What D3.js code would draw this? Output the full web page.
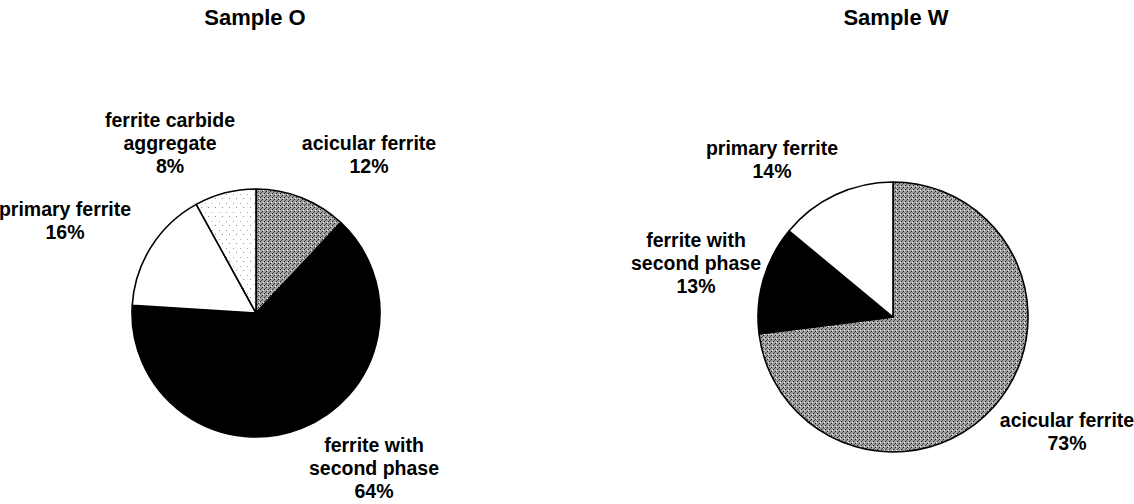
<!DOCTYPE html>
<html>
<head>
<meta charset="utf-8">
<script src="https://cdn.jsdelivr.net/npm/d3@7"></script>
<style>
  body { margin: 0; background: #fff; }
  svg text { font-family: "Liberation Sans", Arial, sans-serif; font-weight: bold; fill: #000; }
</style>
</head>
<body>
<div class="chart"></div>
<script>
// data
var titles = ['Sample O', 'Sample W'];
var categoriesO = ['acicular ferrite', 'ferrite with second phase', 'primary ferrite', 'ferrite carbide aggregate'];
var valuesO = [12, 64, 16, 8];
var categoriesW = ['acicular ferrite', 'ferrite with second phase', 'primary ferrite'];
var valuesW = [73, 13, 14];

// label lines per slice (text only)
var labelLinesO = [['acicular ferrite'], ['ferrite with', 'second phase'], ['primary ferrite'], ['ferrite carbide', 'aggregate']];
var labelLinesW = [['acicular ferrite'], ['ferrite with', 'second phase'], ['primary ferrite']];

var width = 1134, height = 504;

var svg = d3.select('.chart').append('svg')
    .attr('width', width)
    .attr('height', height);

var defs = svg.append('defs');

// grey stipple for acicular ferrite
var pg = defs.append('pattern').attr('id', 'grey').attr('patternUnits', 'userSpaceOnUse')
    .attr('width', 4).attr('height', 4);
pg.append('rect').attr('width', 4).attr('height', 4).attr('fill', '#a2a2a2');
pg.append('rect').attr('x', 0).attr('y', 0).attr('width', 1).attr('height', 1).attr('fill', '#222');
pg.append('rect').attr('x', 2).attr('y', 2).attr('width', 1).attr('height', 1).attr('fill', '#222');
pg.append('rect').attr('x', 1).attr('y', 3).attr('width', 1).attr('height', 1).attr('fill', '#555');
pg.append('rect').attr('x', 3).attr('y', 1).attr('width', 1).attr('height', 1).attr('fill', '#eee');

// sparse dots for carbide aggregate
var ps = defs.append('pattern').attr('id', 'sparse').attr('patternUnits', 'userSpaceOnUse')
    .attr('width', 7).attr('height', 9);
ps.append('rect').attr('width', 7).attr('height', 9).attr('fill', '#fff');
ps.append('rect').attr('x', 1).attr('y', 2).attr('width', 1).attr('height', 1).attr('fill', '#888');
ps.append('rect').attr('x', 5).attr('y', 7).attr('width', 1).attr('height', 1).attr('fill', '#aaa');

var fills = {
    'acicular ferrite': 'url(#grey)',
    'ferrite with second phase': '#000',
    'primary ferrite': '#fff',
    'ferrite carbide aggregate': 'url(#sparse)'
};

// layout: pie centre/radius, title x, label anchors [x, first baseline]
var charts = [
    {title: titles[0], cats: categoriesO, vals: valuesO, lines: labelLinesO,
     cx: 256, cy: 313, r: 124, tx: 255,
     labelPos: [[369, 150], [374, 452], [65, 216], [170, 127]]},
    {title: titles[1], cats: categoriesW, vals: valuesW, lines: labelLinesW,
     cx: 893, cy: 317, r: 135, tx: 896,
     labelPos: [[1067, 427], [696, 247], [772, 155]]}
];

var lineH = 23;

charts.forEach(function (c) {
    svg.append('text')
        .attr('x', c.tx).attr('y', 25)
        .attr('text-anchor', 'middle')
        .style('font-size', '22px')
        .text(c.title);

    var pie = d3.pie().sort(null).startAngle(0).endAngle(2 * Math.PI);
    var arc = d3.arc().innerRadius(0).outerRadius(c.r);
    var arcs = pie(c.vals);

    var g = svg.append('g').attr('transform', 'translate(' + c.cx + ',' + c.cy + ')');
    g.selectAll('path')
        .data(arcs)
        .enter()
        .append('path')
        .attr('d', arc)
        .attr('fill', function (d, i) { return fills[c.cats[i]]; })
        .attr('stroke', '#000')
        .attr('stroke-width', 1.6)
        .attr('stroke-linejoin', 'round');

    // slice labels
    arcs.forEach(function (d, i) {
        var lines = c.lines[i].concat([c.vals[i] + '%']);
        var t = svg.append('text')
            .attr('text-anchor', 'middle')
            .style('font-size', '19.5px');
        lines.forEach(function (l, k) {
            t.append('tspan')
                .attr('x', c.labelPos[i][0])
                .attr('y', c.labelPos[i][1] + k * lineH)
                .text(l);
        });
    });
});
</script>
</body>
</html>
